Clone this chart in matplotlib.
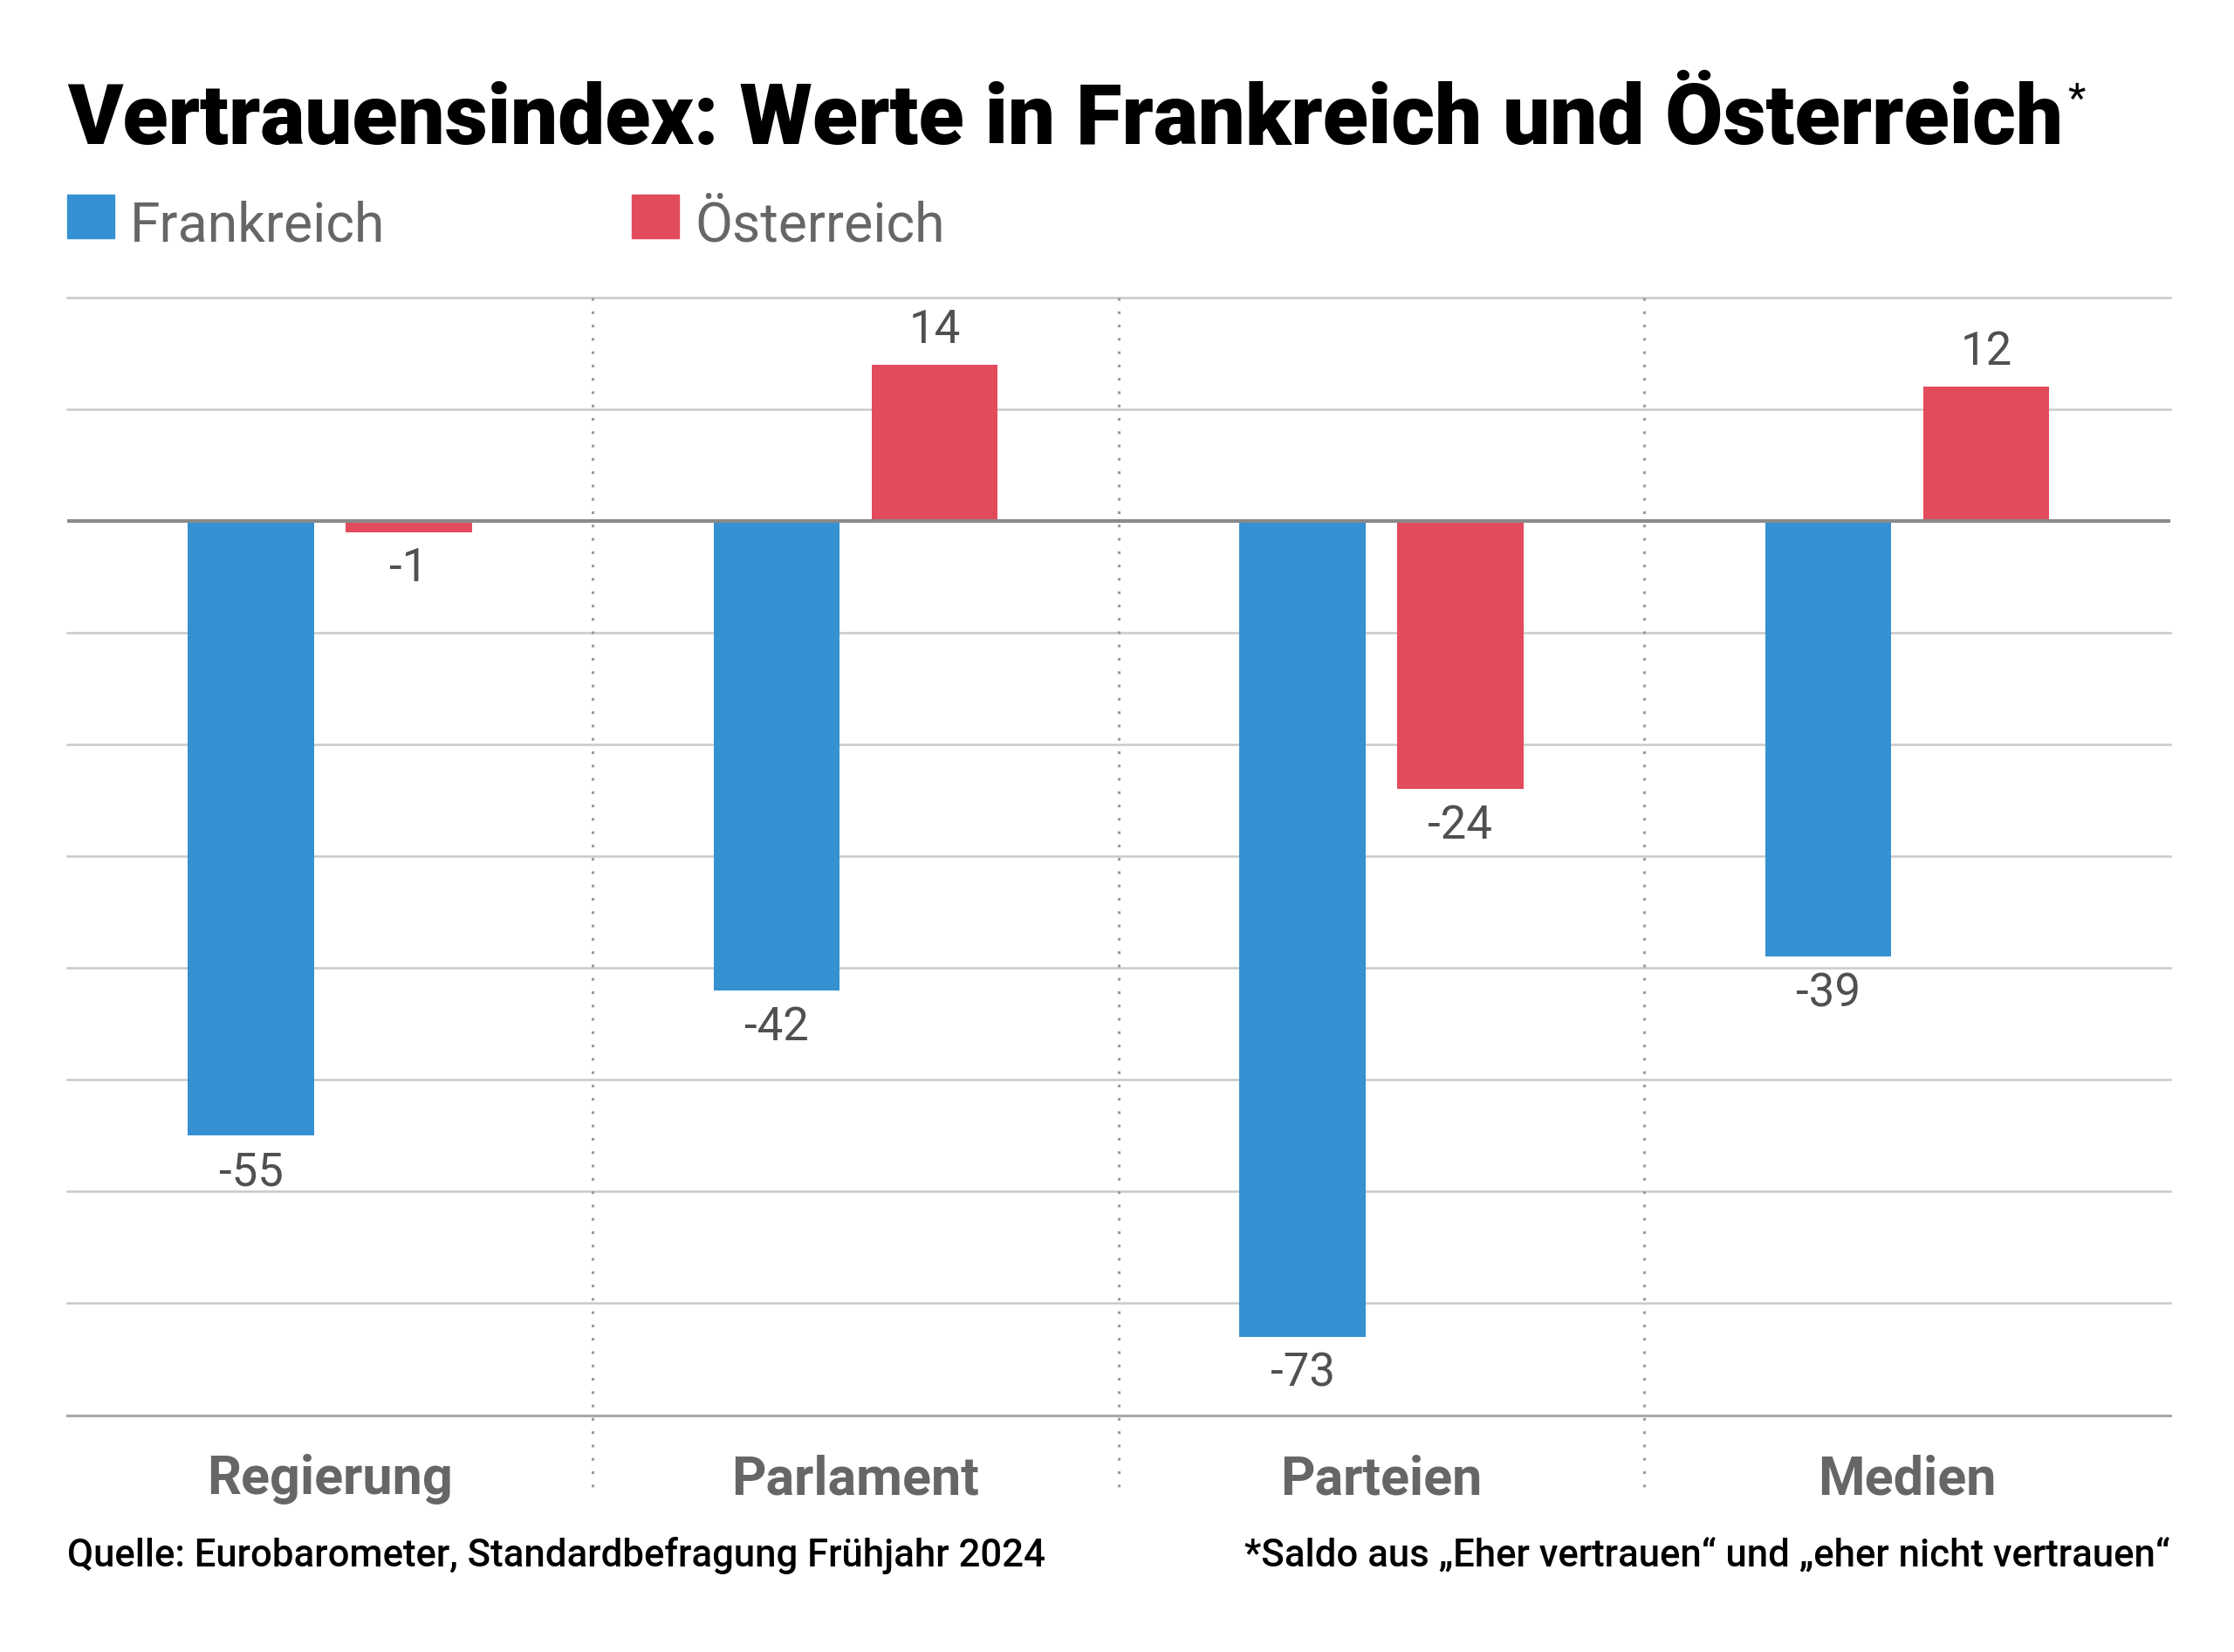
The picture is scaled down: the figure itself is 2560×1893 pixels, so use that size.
import matplotlib.pyplot as plt
from matplotlib.patches import Rectangle
import numpy as np

categories = ['Regierung', 'Parlament', 'Parteien', 'Medien']
series_names = ['Frankreich', 'Österreich']
frankreich = [-55, -42, -73, -39]
oesterreich = [-1, 14, -24, 12]
colors = ['#3591d1', '#e24b5b']
grid_values = list(range(-80, 21, 10))

plt.rcParams['font.family'] = ['Roboto', 'DejaVu Sans']

W, H = 2560, 1893
fig = plt.figure(figsize=(W / 100, H / 100), dpi=100)
ax = fig.add_axes([0.030, 0.1434, 0.9414, 0.6766])

x = np.arange(len(categories))
width = 0.24
offset = 0.15

# gridlines
for g in grid_values:
    if g == 0:
        continue
    ax.axhline(g, color='#c9c9c9', lw=1.8, zorder=1, clip_on=False)
ax.axhline(-80, color='#a8a8a8', lw=2.2, zorder=1, clip_on=False)

# bars + value labels
for vals, dx, c in zip([frankreich, oesterreich], [-offset, offset], colors):
    ax.bar(x + dx, vals, width=width, color=c, zorder=3)
    for xi, v in zip(x + dx, vals):
        if v >= 0:
            ax.annotate(str(v), (xi, v), xytext=(0, 10), textcoords='offset points',
                        ha='center', va='bottom', fontsize=38, color='#505050')
        else:
            ax.annotate(str(v), (xi, v), xytext=(0, -12), textcoords='offset points',
                        ha='center', va='top', fontsize=38, color='#505050')

ax.axhline(0, color='#8a8a8a', lw=3.0, zorder=4)

# dotted separators
for i in range(len(categories) - 1):
    ax.plot([i + 0.5, i + 0.5], [20, -87.3], color='#9a9a9a', lw=2.2,
            ls=(0, (1, 4)), clip_on=False, zorder=2)

# category labels
for i, cat in enumerate(categories):
    ax.text(i, -87.1, cat, ha='center', va='baseline', fontsize=44,
            fontweight='bold', color='#666666')

ax.set_xlim(-0.5, len(categories) - 0.5)
ax.set_ylim(-80, 20)
ax.axis('off')

# title
title = fig.text(0.030, 0.913, 'Vertrauensindex: Werte in Frankreich und Österreich',
                 fontsize=69, fontweight='black', color='black', va='baseline')
fig.canvas.draw()
bb = title.get_window_extent()
fig.text(bb.x1 / W + 0.002, 0.951, '*', fontsize=34, color='black', va='top')

# legend
leg_x = [0.030, 0.283]
for lx, name, c in zip(leg_x, series_names, colors):
    fig.add_artist(Rectangle((lx, 0.856), 0.0211, 0.026, transform=fig.transFigure,
                             color=c))
    fig.text(lx + 0.028, 0.854, name, fontsize=45, color='#666666', va='baseline')

# footnotes
fig.text(0.030, 0.052, 'Quelle: Eurobarometer, Standardbefragung Frühjahr 2024',
         fontsize=31.5, fontweight='medium', color='black', va='baseline')
fig.text(0.9714, 0.052, '*Saldo aus „Eher vertrauen“ und „eher nicht vertrauen“',
         fontsize=31.5, fontweight='medium', color='black', va='baseline', ha='right')

fig.savefig('out.png', dpi=100, facecolor='white')
